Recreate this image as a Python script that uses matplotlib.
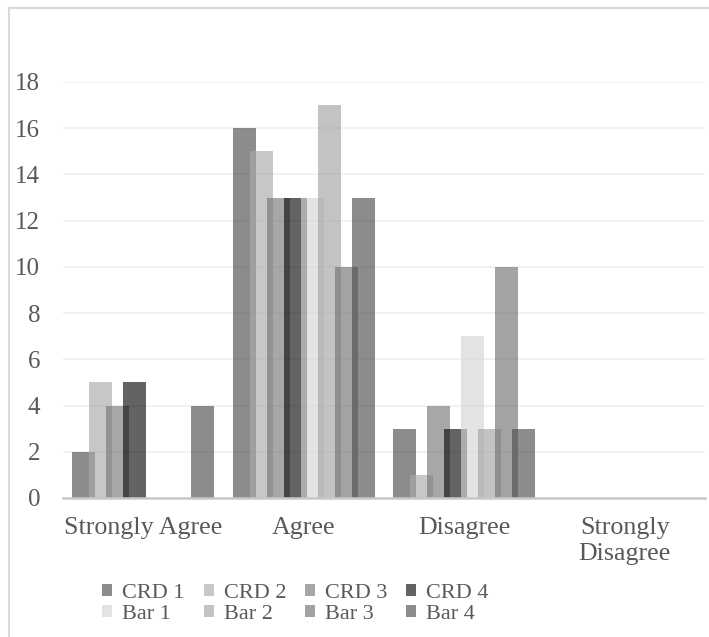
import matplotlib.pyplot as plt
import matplotlib.patches as mpatches
import numpy as np

categories = ["Strongly Agree", "Agree", "Disagree", "Strongly\nDisagree"]
series_names = ["CRD 1", "CRD 2", "CRD 3", "CRD 4", "Bar 1", "Bar 2", "Bar 3", "Bar 4"]

crd1 = [2, 16, 3, 0]
crd2 = [5, 15, 1, 0]
crd3 = [4, 13, 4, 0]
crd4 = [5, 13, 3, 0]
bar1 = [0, 13, 7, 0]
bar2 = [0, 17, 3, 0]
bar3 = [0, 10, 10, 0]
bar4 = [4, 13, 3, 0]

# base greys, drawn semi transparent so the overlaps show through
colors = ["#4e4e4e", "#aaaaaa", "#787878", "#0f0f0f",
          "#d4d4d4", "#a3a3a3", "#727272", "#4e4e4e"]
alpha = 0.65

plt.rcParams['font.family'] = ['Liberation Serif', 'DejaVu Serif']

fig = plt.figure(figsize=(7.09, 6.37), dpi=100)
ax = fig.add_axes([63 / 709, 1 - 498 / 637, 642 / 709, 416 / 637])

x = np.arange(len(categories))
step = 0.106
width = 0.141
all_series = [crd1, crd2, crd3, crd4, bar1, bar2, bar3, bar4]
handles = []
for j, vals in enumerate(all_series):
    b = ax.bar(x + (j - 3.5) * step, vals, width, color=colors[j], alpha=alpha,
               linewidth=0, label=series_names[j], zorder=3)
    handles.append(b)

ax.set_xlim(-0.5, 3.5)
ax.set_ylim(0, 18)
ax.set_yticks(range(0, 19, 2))
ax.set_xticks(x)
ax.set_xticklabels(categories, linespacing=1.25)
ax.yaxis.grid(True, color="#efefef", linewidth=1.2, zorder=0)
ax.set_axisbelow(True)
for s in ["top", "right", "left"]:
    ax.spines[s].set_visible(False)
ax.spines["bottom"].set_color("#c8c8c8")
ax.spines["bottom"].set_linewidth(1.8)
ax.spines["bottom"].set_zorder(4)
ax.tick_params(axis="both", length=0, colors="#595959")
ax.tick_params(axis="y", pad=16.5, labelsize=18)
ax.tick_params(axis="x", pad=13.5, labelsize=18.7)

# legend: crd series in first row, bar series in second
order = [0, 4, 1, 5, 2, 6, 3, 7]
leg = fig.legend([handles[i] for i in order], [series_names[i] for i in order],
                 ncol=4, loc="center", bbox_to_anchor=(0.417, 0.0515),
                 frameon=False, fontsize=16, handlelength=0.45, handleheight=0.45,
                 handletextpad=0.45, columnspacing=0.85, labelspacing=0.1,
                 borderpad=0)
for t in leg.get_texts():
    t.set_color("#595959")

# outer chart border
fig.patches.append(mpatches.Rectangle((8.5 / 709, -0.1), 1.2, 1 - 8 / 637 + 0.1,
                                      transform=fig.transFigure, fill=False,
                                      edgecolor="#d9d9d9", linewidth=1.5))

fig.savefig("out.png", dpi=100)
